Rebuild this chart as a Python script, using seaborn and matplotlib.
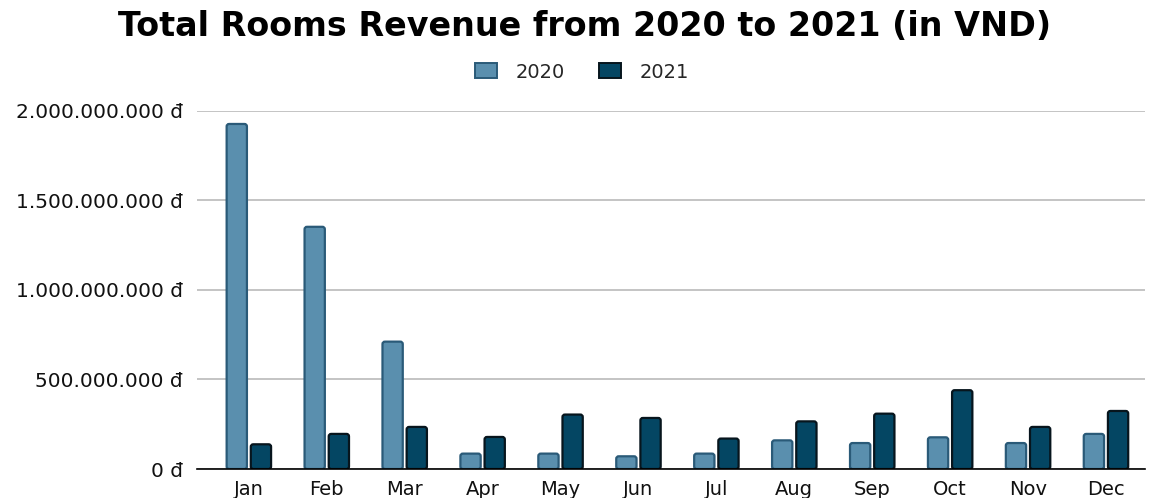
import matplotlib
matplotlib.use("Agg")
import matplotlib.pyplot as plt
from matplotlib.ticker import FuncFormatter, MultipleLocator
from matplotlib.patches import Patch, FancyBboxPatch
import pandas as pd
import seaborn as sns

months = ["Jan", "Feb", "Mar", "Apr", "May", "Jun",
          "Jul", "Aug", "Sep", "Oct", "Nov", "Dec"]
rev_2020 = [1926e6, 1352e6, 711e6, 86e6, 86e6, 71e6,
            86e6, 160e6, 145e6, 177e6, 145e6, 196e6]
rev_2021 = [138e6, 196e6, 235e6, 179e6, 304e6, 285e6,
            170e6, 266e6, 309e6, 440e6, 235e6, 324e6]
years = ["2020", "2021"]

fill_colors = {"2020": "#5a8fae", "2021": "#044663"}
edge_colors = {"2020": "#2a5a78", "2021": "#07151d"}

df = pd.DataFrame({
    "Month": months * 2,
    "Year": [years[0]] * 12 + [years[1]] * 12,
    "Revenue": rev_2020 + rev_2021,
})

sns.set_theme(style="white")
plt.rcParams["font.family"] = ["DejaVu Sans"]

fig = plt.figure(figsize=(11.55, 4.98), dpi=100)
ax = fig.add_axes([0.1706, 0.0582, 0.9913 - 0.1706, 0.7777 - 0.0582])

sns.barplot(data=df, x="Month", y="Revenue", hue="Year", order=months,
            hue_order=years, palette=fill_colors, saturation=1,
            width=0.62, gap=0.16, ax=ax, legend=False, linewidth=0)

ax.set_xlim(-0.665, 11.5)
ax.set_ylim(0, 2e9)

# swap the plain rectangles for softly rounded ones with dark outlines
x_per_px = (11.5 + 0.665) / (ax.get_position().width * 1155)
y_per_px = 2e9 / (ax.get_position().height * 498)
radius_px = 2.5
for container, yr in zip(ax.containers, years):
    for bar in container:
        x, y = bar.get_x(), bar.get_y()
        w, h = bar.get_width(), bar.get_height()
        bar.set_visible(False)
        rounded = FancyBboxPatch(
            (x, y), w, h,
            boxstyle=f"round,pad=0,rounding_size={radius_px * x_per_px}",
            mutation_aspect=y_per_px / x_per_px,
            facecolor=fill_colors[yr], edgecolor=edge_colors[yr],
            linewidth=1.6, zorder=3)
        ax.add_patch(rounded)

ax.yaxis.set_major_locator(MultipleLocator(5e8))
ax.yaxis.set_major_formatter(
    FuncFormatter(lambda v, _: f"{int(round(v)):,}".replace(",", ".") + " đ"))
ax.grid(axis="y", color="#b4b4b4", linewidth=1.1, zorder=0)
ax.set_axisbelow(True)
ax.grid(axis="x", visible=False)

for side in ["top", "right", "left"]:
    ax.spines[side].set_visible(False)
ax.spines["bottom"].set_color("black")
ax.spines["bottom"].set_linewidth(1.2)
ax.spines["bottom"].set_zorder(4)

ax.tick_params(axis="y", length=0, pad=10, labelsize=14.5, labelcolor="#111111")
ax.tick_params(axis="x", length=0, pad=8, labelsize=14, labelcolor="#111111")
ax.set_xlabel("")
ax.set_ylabel("")

fig.text(0.506, 1 - 36 / 498, "Total Rooms Revenue from 2020 to 2021 (in VND)",
         ha="center", va="baseline", fontsize=24, fontweight="bold",
         color="black")

handles = [Patch(facecolor=fill_colors[y], edgecolor=edge_colors[y],
                 linewidth=1.4, label=y) for y in years]
fig.legend(handles=handles, loc="center", bbox_to_anchor=(0.504, 1 - 72 / 498),
           ncol=2, frameon=False, fontsize=14, handlelength=1.13,
           handleheight=0.77, handletextpad=0.98, columnspacing=1.75)

fig.savefig("out.png", dpi=100)
